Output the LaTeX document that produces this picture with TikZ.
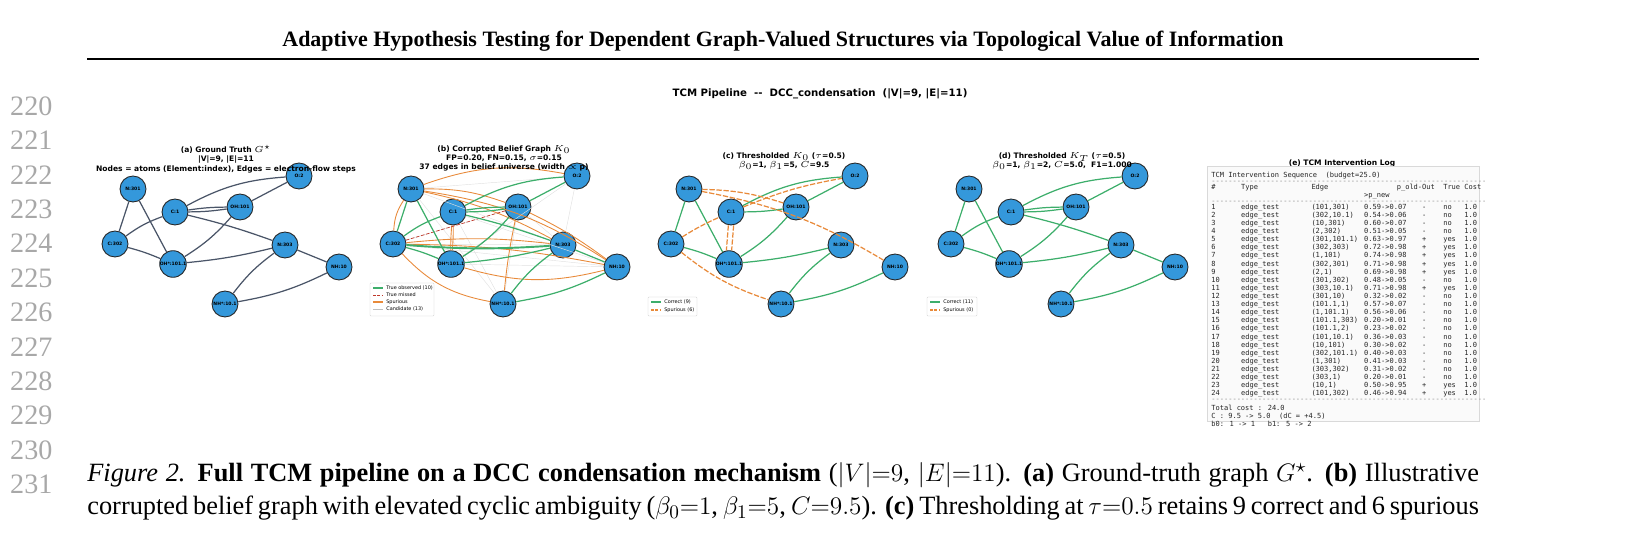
\documentclass[tikz,border=0pt]{standalone}
\usepackage{fontspec}
\setmainfont{Liberation Serif}
\newfontfamily\dv{DejaVu Sans}
\newfontfamily\dvm{DejaVu Sans Mono}
\definecolor{nodeblue}{HTML}{3498DB}
\definecolor{edark}{HTML}{4A5568}
\definecolor{eg}{HTML}{3DAE6B}
\definecolor{eo}{HTML}{E88A3A}
\definecolor{er}{HTML}{C0392B}
\definecolor{lnum}{HTML}{A8A8A8}
\tikzset{
 atom/.style={circle,fill=nodeblue,draw=black!85,line width=0.5pt,minimum size=0.52cm,inner sep=0pt,font=\dv\bfseries\fontsize{2.6}{3}\selectfont},
 ta/.style={draw=edark,line width=0.7pt},
 tg/.style={draw=eg,line width=0.7pt},
 tgb/.style={draw=eg,line width=1.1pt},
 sp/.style={draw=eo,line width=0.5pt},
 spd/.style={draw=eo,line width=0.7pt,dash pattern=on 3pt off 1pt},
 cand/.style={draw=black!12,line width=0.25pt},
 ptitle/.style={font=\dv\bfseries\fontsize{4.3}{5.2}\selectfont,align=center,anchor=north},
 leg/.style={draw=black!20,fill=white,rounded corners=0.5pt,line width=0.2pt},
 legt/.style={font=\dv\fontsize{2.8}{3.2}\selectfont,anchor=west,inner sep=0pt},
 lg1/.style={draw=eg,line width=0.6pt},
 lg2/.style={draw=er,line width=0.5pt,dash pattern=on 1.5pt off 1pt},
 lg3/.style={draw=eo,line width=0.6pt},
 lg4/.style={draw=black!25,line width=0.3pt},
 lg5/.style={draw=eo,line width=0.6pt,dash pattern=on 1.5pt off 1pt},
}
\newcommand\truthedges[2]{%
 \draw[#2] (#1n301) -- (#1c302);
 \draw[#2] (#1n301) -- (#1ohs);
 \draw[#2] (#1c302) to[bend left=8] (#1c1);
 \draw[#2] (#1c302) to[bend left=4] (#1ohs);
 \draw[#2] (#1ohs) to[bend right=4] (#1n303);
 \draw[#2] (#1c1) to[bend left=12] (#1o2);
 \draw[#2] (#1c1) to[bend left=4] (#1oh101);
 \draw[#2] (#1c1) to[bend right=4] (#1oh101);
 \draw[#2] (#1oh101) -- (#1o2);
 \draw[#2] (#1c1) to[bend left=3] (#1n303);
 \draw[#2] (#1oh101) to[bend left=8] (#1ohs);
 \draw[#2] (#1n303) -- (#1nh10);
 \draw[#2] (#1n303) to[bend right=8] (#1nhs);
 \draw[#2] (#1nhs) to[bend right=8] (#1nh10);}
\begin{document}
\begin{tikzpicture}[x=0.02cm,y=-0.02cm]
\useasboundingbox (0,0) rectangle (1639,533);
% header
\node[font=\bfseries\fontsize{12.5}{14}\selectfont] (hdr) at (783,41) {Adaptive Hypothesis Testing for Dependent Graph-Valued Structures via Topological Value of Information};
\draw[line width=1.1pt] (87,59) -- (1479,59);
% line numbers
\foreach \n [count=\i from 0] in {220,...,231}
  \node[font=\fontsize{16}{18}\selectfont,text=lnum,anchor=west] (ln\n) at (4,106+\i*34.4) {\n};
% main title
\node[font=\dv\bfseries\fontsize{5.8}{7}\selectfont] (mt) at (820,94) {TCM Pipeline\ \ --\ \ DCC\_condensation\ \ (|V|=9, |E|=11)};
% panels nodes
\foreach \p/\dx in {a/0,b/278,c/556,d/836}{
 \begin{scope}[xshift=\dx*0.02cm]
 \node[atom] (\p n301) at (133,189) {N:301};
 \node[atom] (\p c1) at (175,212) {C:1};
 \node[atom] (\p oh101) at (240,207) {OH:101};
 \node[atom] (\p o2) at (299,176) {O:2};
 \node[atom] (\p c302) at (115,244) {C:302};
 \node[atom] (\p ohs) at (173,264) {OH*:101.1};
 \node[atom] (\p n303) at (285,245) {N:303};
 \node[atom] (\p nh10) at (339,267) {NH:10};
 \node[atom] (\p nhs) at (225,304) {NH*:10.1};
 \end{scope}}
% (b) candidates and spurious first
\foreach \u/\v in {oh101/nhs,n301/nhs,c1/nhs,o2/n303,ohs/nh10,c302/oh101,n301/o2,ohs/o2,c1/nh10,oh101/n303,n303/c302,c302/nh10,n301/n303}
  \draw[cand] (b\u) -- (b\v);
\draw[sp] (bn301) to[bend left=10] (boh101);
\draw[sp] (bn301) to[bend left=8] (bn303);
\draw[sp] (bn301) to[bend left=12] (bnh10);
\draw[sp] (bn301) to[bend right=15] (bc302);
\draw[sp] (bc302) to[bend left=6] (bn303);
\draw[sp] (bc302) to[bend left=5] (bnh10);
\draw[sp] (bc302) to[bend right=18] (bnhs);
\draw[sp] (bc1) to[bend left=3] (bohs);
\draw[sp] (bc1) to[bend right=3] (bohs);
\draw[sp] (boh101) to[bend left=5] (bnh10);
\draw[sp] (boh101) to[bend right=3] (bnhs);
\draw[sp] (bohs) to[bend right=15] (bnh10);
\draw[sp] (bn301) to[bend left=15] (bo2);
\draw[er,line width=0.4pt,dash pattern=on 2pt off 1pt] (bc302) -- (boh101);
\truthedges{a}{ta}
\truthedges{b}{tg}
\draw[tgb] (bc302) to[bend right=4] (bn303);
\truthedges{d}{tg}
% (c)
\draw[tg] (cn301) -- (cc302);
\draw[tg] (cn301) -- (cohs);
\draw[tg] (cc302) to[bend left=4] (cohs);
\draw[tg] (cohs) to[bend right=4] (cn303);
\draw[tg] (cc1) to[bend left=12] (co2);
\draw[tg] (cc1) to[bend right=4] (coh101);
\draw[tg] (coh101) -- (co2);
\draw[tg] (coh101) to[bend left=8] (cohs);
\draw[tg] (cn303) to[bend right=8] (cnhs);
\draw[tg] (cnhs) to[bend right=8] (cnh10);
\draw[spd] (cn301) to[bend left=8] (coh101);
\draw[spd] (cn301) to[bend left=10] (cnh10);
\draw[spd] (cc1) to[bend left=6] (co2);
\draw[spd] (cc302) to[bend left=4] (cc1);
\draw[spd] ([xshift=-1.5pt]cc1.south) -- ([xshift=-1.5pt]cohs.north);
\draw[spd] ([xshift=1.5pt]cc1.south) -- ([xshift=1.5pt]cohs.north);
\draw[spd] (cc302) to[bend right=10] (cnhs);
% legends
\draw[leg] (370,283) rectangle (434,316);
\foreach \y/\s/\t in {288/lg1/True observed (10),295/lg2/True missed / FN (1),302/lg3/Spurious / FP (13),309/lg4/Candidate (13)}{
  \draw[\s] (373,\y) -- (383,\y); \node[legt] at (386,\y) {\t};}
\draw[leg] (648,297) rectangle (697,316);
\draw[lg1] (651,302) -- (661,302); \node[legt] at (664,302) {Correct (9)};
\draw[lg5] (651,310) -- (661,310); \node[legt] at (664,310) {Spurious (6)};
\draw[leg] (927,297) rectangle (977,316);
\draw[lg1] (930,302) -- (940,302); \node[legt] at (943,302) {Correct (11)};
\draw[lg5] (930,310) -- (940,310); \node[legt] at (943,310) {Spurious (0)};
% titles
\node[ptitle] (ta) at (226,139) {(a) Ground Truth $G^\star$\\|V|=9, |E|=11\\Nodes = atoms (Element:index), Edges = electron-flow steps};
\node[ptitle] (tb) at (504,139) {(b) Corrupted Belief Graph $K_0$\\FP=0.20, FN=0.15, $\sigma$=0.15\\37 edges in belief universe (width $\propto$ p)};
\node[ptitle] (tc) at (784,146) {(c) Thresholded $K_0$ ($\tau$=0.5)\\$\beta_0$=1, $\beta_1$=5, $C$=9.5};
\node[ptitle] (td) at (1062,146) {(d) Thresholded $K_T$ ($\tau$=0.5)\\$\beta_0$=1, $\beta_1$=2, $C$=5.0,\ \ F1=1.000};
\node[ptitle] (te) at (1342,154) {(e) TCM Intervention Log};
% log
\draw[fill=black!2,draw=black!15,line width=0.3pt] (1207,166) rectangle (1479,421);
\node[anchor=north west,inner sep=0pt,font=\dvm\fontsize{4}{4.62}\selectfont,text=black!85] (log) at (1211,171) {%
\setlength{\tabcolsep}{0pt}\renewcommand{\arraystretch}{1}%
\begin{tabular}{@{}p{17pt}p{40pt}p{30pt}p{33pt}p{12pt}p{12pt}l@{}}
\multicolumn{7}{@{}l}{TCM Intervention Sequence\ \ (budget=25.0)}\\[-1.2pt]
\multicolumn{7}{@{}l}{\color{black!45}-----------------------------------------------------------------}\\[-1.2pt]
\#&Type&Edge&\ \ \ p\_old->p\_new&Out&True&Cost\\[-1.2pt]
\multicolumn{7}{@{}l}{\color{black!45}-----------------------------------------------------------------}\\[-1.2pt]
1&edge\_test&(101,301)&0.59->0.07&-&no&1.0\\
2&edge\_test&(302,10.1)&0.54->0.06&-&no&1.0\\
3&edge\_test&(10,301)&0.60->0.07&-&no&1.0\\
4&edge\_test&(2,302)&0.51->0.05&-&no&1.0\\
5&edge\_test&(301,101.1)&0.63->0.97&+&yes&1.0\\
6&edge\_test&(302,303)&0.72->0.98&+&yes&1.0\\
7&edge\_test&(1,101)&0.74->0.98&+&yes&1.0\\
8&edge\_test&(302,301)&0.71->0.98&+&yes&1.0\\
9&edge\_test&(2,1)&0.69->0.98&+&yes&1.0\\
10&edge\_test&(301,302)&0.48->0.05&-&no&1.0\\
11&edge\_test&(303,10.1)&0.71->0.98&+&yes&1.0\\
12&edge\_test&(301,10)&0.32->0.02&-&no&1.0\\
13&edge\_test&(101.1,1)&0.57->0.07&-&no&1.0\\
14&edge\_test&(1,101.1)&0.56->0.06&-&no&1.0\\
15&edge\_test&(101.1,303)&0.20->0.01&-&no&1.0\\
16&edge\_test&(101.1,2)&0.23->0.02&-&no&1.0\\
17&edge\_test&(101,10.1)&0.36->0.03&-&no&1.0\\
18&edge\_test&(10,101)&0.30->0.02&-&no&1.0\\
19&edge\_test&(302,101.1)&0.40->0.03&-&no&1.0\\
20&edge\_test&(1,301)&0.41->0.03&-&no&1.0\\
21&edge\_test&(303,302)&0.31->0.02&-&no&1.0\\
22&edge\_test&(303,1)&0.20->0.01&-&no&1.0\\
23&edge\_test&(10,1)&0.50->0.95&+&yes&1.0\\
24&edge\_test&(101,302)&0.46->0.94&+&yes&1.0\\[-1.2pt]
\multicolumn{7}{@{}l}{\color{black!45}-----------------------------------------------------------------}\\
\multicolumn{7}{@{}l}{Total cost : 24.0}\\
\multicolumn{7}{@{}l}{C : 9.5 -> 5.0\ \ (dC = +4.5)}\\
\multicolumn{7}{@{}l}{b0: 1 -> 1\ \ \ b1: 5 -> 2}\\
\end{tabular}};
% caption
\node[anchor=north west,inner sep=0pt,text width=27.84cm,align=justify,font=\fontsize{15}{19}\selectfont] (cap) at (87,462) {\textit{Figure 2.} \textbf{Full TCM pipeline on a DCC condensation mechanism} ($|V|{=}9$, $|E|{=}11$). \textbf{(a)} Ground-truth graph $G^\star$. \textbf{(b)} Illustrative\linebreak corrupted belief graph with elevated cyclic ambiguity ($\beta_0{=}1$, $\beta_1{=}5$, $C{=}9.5$). \textbf{(c)} Thresholding at $\tau{=}0.5$ retains 9 correct and 6 spurious\linebreak};
\end{tikzpicture}
\end{document}
